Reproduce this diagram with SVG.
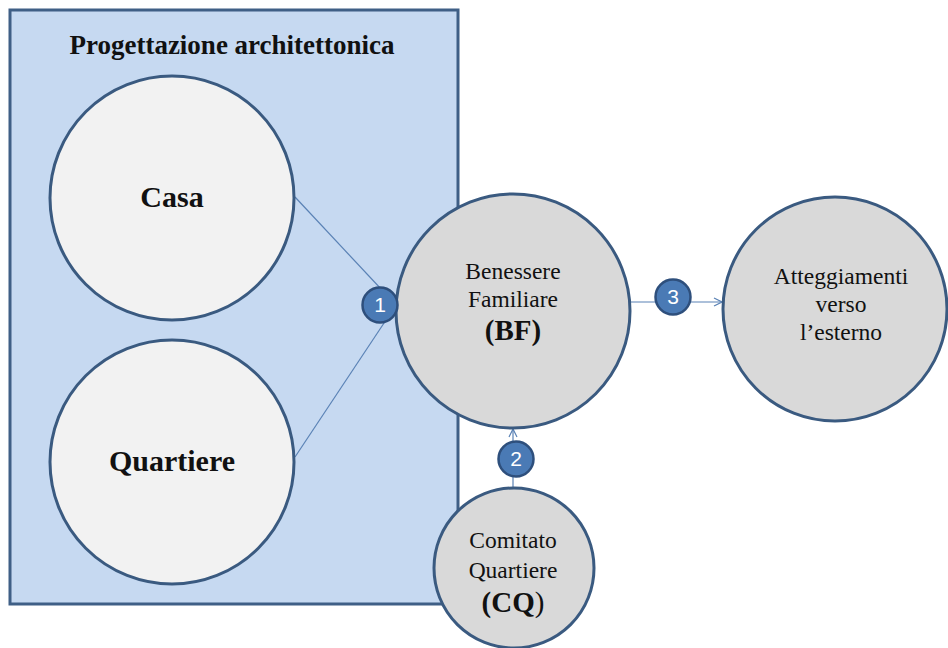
<svg xmlns="http://www.w3.org/2000/svg" width="948" height="648" viewBox="0 0 948 648">
  <defs>
    <style>
      .frame { fill: #c6d9f1; stroke: #3f5f86; stroke-width: 3; }
      .big { fill: #f2f2f2; stroke: #3a5a80; stroke-width: 3; }
      .node { fill: #d9d9d9; stroke: #3a5a80; stroke-width: 3; }
      .badge { fill: #4a7ab5; stroke: #2e4f7c; stroke-width: 2.5; }
      .badge-t { font-family: "Liberation Sans", Arial, sans-serif; font-size: 21px; fill: #ffffff; text-anchor: middle; }
      .link { stroke: #5a82b5; stroke-width: 1.2; fill: none; }
      .t { font-family: "Liberation Serif", "Times New Roman", serif; fill: #111111; text-anchor: middle; }
      .title { font-size: 27px; font-weight: bold; }
      .lbl { font-size: 30px; font-weight: bold; }
      .abbr { font-size: 29px; font-weight: bold; }
      .small { font-size: 23.5px; }
    </style>
    <marker id="arrow" viewBox="0 0 10 10" refX="9" refY="5" markerWidth="10" markerHeight="10" markerUnits="userSpaceOnUse" orient="auto">
      <path d="M1,1 L9,5 L1,9" fill="none" stroke="#5a82b5" stroke-width="1.2"/>
    </marker>
  </defs>

  <g id="frame">
    <rect class="frame" x="10" y="10" width="448" height="594"/>
    <text class="t title" x="232" y="54">Progettazione architettonica</text>
  </g>

  <g id="connectors">
    <line class="link" x1="295" y1="197" x2="396" y2="305"/>
    <line class="link" x1="295" y1="457" x2="396" y2="305"/>
    <line class="link" x1="631" y1="302" x2="722" y2="302" marker-end="url(#arrow)"/>
    <line class="link" x1="513" y1="489" x2="513" y2="429" marker-end="url(#arrow)"/>
  </g>

  <g id="casa">
    <circle class="big" cx="172" cy="198" r="122"/>
    <text class="t lbl" x="172" y="207">Casa</text>
  </g>

  <g id="quartiere">
    <circle class="big" cx="172" cy="462" r="122"/>
    <text class="t lbl" x="172" y="471">Quartiere</text>
  </g>

  <g id="bf">
    <circle class="node" cx="513" cy="311" r="117"/>
    <text class="t small" x="513" y="279">Benessere</text>
    <text class="t small" x="513" y="307">Familiare</text>
    <text class="t abbr" x="513" y="340">(BF)</text>
  </g>

  <g id="atteggiamenti">
    <circle class="node" cx="835" cy="309" r="112"/>
    <text class="t small" x="841" y="284">Atteggiamenti</text>
    <text class="t small" x="841" y="312">verso</text>
    <text class="t small" x="841" y="340">l’esterno</text>
  </g>

  <g id="cq">
    <circle class="node" cx="514" cy="568" r="80"/>
    <text class="t small" x="513" y="548">Comitato</text>
    <text class="t small" x="513" y="578">Quartiere</text>
    <text class="t abbr" x="513" y="612">(CQ<tspan font-weight="normal">)</tspan></text>
  </g>

  <g id="badge-1">
    <circle class="badge" cx="380" cy="305" r="17.5"/>
    <text class="badge-t" x="380" y="312">1</text>
  </g>
  <g id="badge-2">
    <circle class="badge" cx="516" cy="459" r="17.5"/>
    <text class="badge-t" x="516" y="466">2</text>
  </g>
  <g id="badge-3">
    <circle class="badge" cx="673" cy="297" r="17.5"/>
    <text class="badge-t" x="673" y="304">3</text>
  </g>
</svg>
